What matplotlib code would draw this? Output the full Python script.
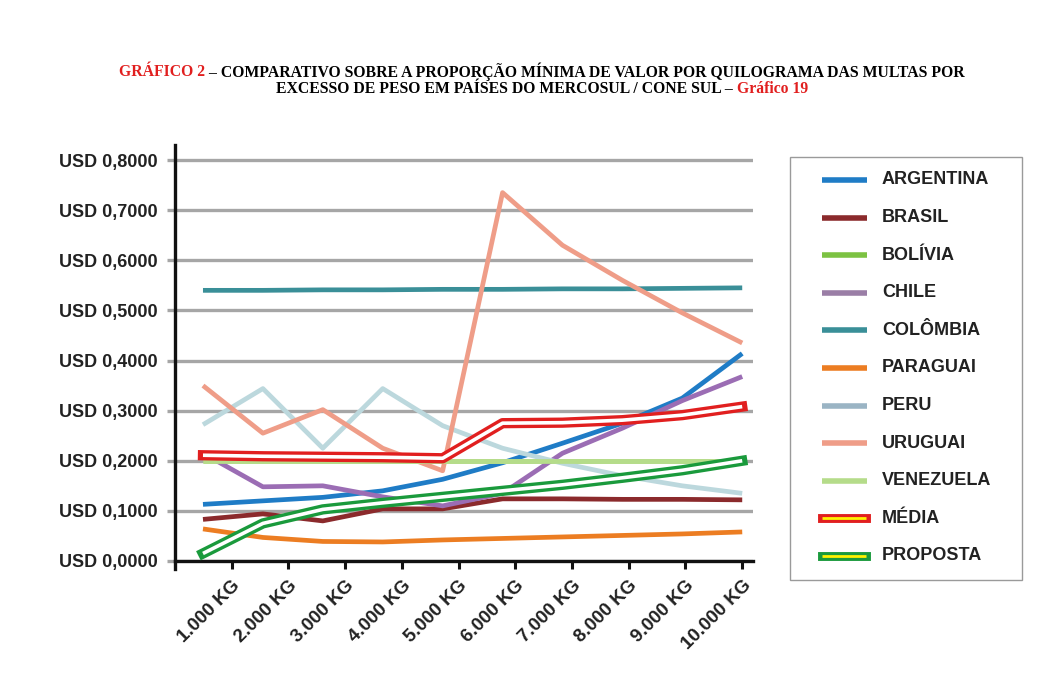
import numpy as np
import matplotlib
matplotlib.use('Agg')
import matplotlib.pyplot as plt
import matplotlib.patheffects as pe
from matplotlib.lines import Line2D
from matplotlib.patches import Rectangle

# categorias (peso excedente)
pesos = ['1.000 KG', '2.000 KG', '3.000 KG', '4.000 KG', '5.000 KG',
         '6.000 KG', '7.000 KG', '8.000 KG', '9.000 KG', '10.000 KG']

# valores em USD por kg
argentina = [0.113, 0.120, 0.127, 0.140, 0.163, 0.196, 0.235, 0.275, 0.325, 0.414]
brasil    = [0.083, 0.094, 0.080, 0.104, 0.104, 0.124, 0.124, 0.123, 0.123, 0.122]
bolivia   = [0.200, 0.200, 0.200, 0.200, 0.200, 0.200, 0.200, 0.200, 0.200, 0.200]
chile     = [0.215, 0.148, 0.150, 0.128, 0.110, 0.135, 0.215, 0.265, 0.320, 0.368]
colombia  = [0.540, 0.540, 0.541, 0.541, 0.542, 0.542, 0.543, 0.543, 0.544, 0.545]
paraguai  = [0.064, 0.047, 0.039, 0.038, 0.042, 0.045, 0.048, 0.051, 0.054, 0.058]
peru      = [0.272, 0.344, 0.225, 0.344, 0.270, 0.225, 0.195, 0.170, 0.150, 0.135]
uruguai   = [0.350, 0.255, 0.302, 0.225, 0.180, 0.735, 0.630, 0.560, 0.495, 0.435]
venezuela = [0.200, 0.200, 0.200, 0.200, 0.200, 0.200, 0.200, 0.200, 0.200, 0.200]
media     = [0.211, 0.209, 0.208, 0.207, 0.205, 0.275, 0.276, 0.281, 0.291, 0.308]
proposta  = [0.015, 0.075, 0.103, 0.116, 0.128, 0.140, 0.152, 0.166, 0.181, 0.200]

paises = ['ARGENTINA', 'BRASIL', 'BOLÍVIA', 'CHILE', 'COLÔMBIA', 'PARAGUAI',
          'PERU', 'URUGUAI', 'VENEZUELA']
series = [argentina, brasil, bolivia, chile, colombia, paraguai, peru, uruguai, venezuela]
cores = ['#1f7cc6', '#8b2a2c', '#b5dc8a', '#9b6db4', '#3a8f98', '#ec7d22',
         '#bcd8dd', '#ef9d88', '#b5dc8a']
cores_leg = ['#1f7cc6', '#8b2a2c', '#7cc242', '#9a7ea6', '#3a8f98', '#ec7d22',
             '#9ab4c4', '#ef9d88', '#b5dc8a']

vermelho = '#e11f1f'
verde = '#1a9a3c'
fonte = 'Liberation Sans'

fig = plt.figure(figsize=(10.47, 6.84), dpi=100)
W, H = 1047, 684
ax = fig.add_axes([175 / W, 1 - 561 / H, 578 / W, 416 / H])

x = np.arange(len(pesos))
for vals, cor in zip(series, cores):
    ax.plot(x, vals, color=cor, lw=3.4, solid_capstyle='butt', zorder=3)

ax.plot(x, media, color='white', lw=2.6, solid_capstyle='butt', zorder=5,
        path_effects=[pe.Stroke(linewidth=7.4, foreground=vermelho, capstyle='projecting'),
                      pe.Normal()])
ax.plot(x, proposta, color='white', lw=2.6, solid_capstyle='butt', zorder=4,
        path_effects=[pe.Stroke(linewidth=7.4, foreground=verde, capstyle='projecting'),
                      pe.Normal()])

ax.set_xlim(-0.467, 9.18)
ax.set_ylim(0, 0.83)
ax.set_yticks(np.arange(0, 0.81, 0.1))
ax.set_yticklabels(['USD ' + f'{v:.4f}'.replace('.', ',') for v in np.arange(0, 0.81, 0.1)],
                   fontfamily=fonte, fontweight='bold', fontsize=13, color='#222222')
ax.yaxis.grid(True, color='#a6a6a6', lw=2.4, zorder=1)
ax.set_axisbelow(True)
ax.tick_params(axis='y', length=5.5, width=2.4, color='#a6a6a6', pad=7)

ax.set_xticks(np.linspace(0.48, 9, len(pesos)))
ax.set_xticklabels(pesos, rotation=45, ha='right', va='top', rotation_mode='anchor',
                   fontfamily=fonte, fontweight='bold', fontsize=13.5, color='#222222')
ax.tick_params(axis='x', length=5.5, width=2.2, color='#111111', pad=6)

for s in ['top', 'right']:
    ax.spines[s].set_visible(False)
ax.spines['left'].set_linewidth(2.4)
ax.spines['bottom'].set_linewidth(2.4)
ax.spines['left'].set_color('#111111')
ax.spines['bottom'].set_color('#111111')
ax.spines['left'].set_bounds(-0.016, 0.83)

# legenda desenhada a parte
fig.patches.append(Rectangle((790 / W, 1 - 580 / H), 232 / W, 423 / H,
                             transform=fig.transFigure, fill=False,
                             edgecolor='#9a9a9a', lw=1.0))
linhas_y = np.linspace(180, 556, 11)
nomes = paises + ['MÉDIA', 'PROPOSTA']
for i, nome in enumerate(nomes):
    yy = 1 - linhas_y[i] / H
    if nome == 'MÉDIA':
        h = Line2D([822 / W, 866 / W], [yy, yy], transform=fig.transFigure, color='#fff200',
                   lw=2.0, solid_capstyle='butt',
                   path_effects=[pe.Stroke(linewidth=6.4, foreground=vermelho,
                                           capstyle='projecting'), pe.Normal()])
    elif nome == 'PROPOSTA':
        h = Line2D([822 / W, 866 / W], [yy, yy], transform=fig.transFigure, color='#fff200',
                   lw=2.0, solid_capstyle='butt',
                   path_effects=[pe.Stroke(linewidth=6.4, foreground=verde,
                                           capstyle='projecting'), pe.Normal()])
    else:
        h = Line2D([822 / W, 867 / W], [yy, yy], transform=fig.transFigure,
                   color=cores_leg[i], lw=4.0, solid_capstyle='butt')
    fig.lines.append(h)
    fig.text(882 / W, yy, nome, fontfamily=fonte, fontweight='bold', fontsize=13,
             color='#222222', va='center', ha='left')

# titulo com partes em vermelho
titulo = [
    [('GRÁFICO 2', vermelho),
     (' – COMPARATIVO SOBRE A PROPORÇÃO MÍNIMA DE VALOR POR QUILOGRAMA DAS MULTAS POR', 'black')],
    [('EXCESSO DE PESO EM PAÍSES DO MERCOSUL / CONE SUL – ', 'black'),
     ('Gráfico 19', vermelho)],
]
renderer = fig.canvas.get_renderer()
for linha, ty in zip(titulo, [72, 89]):
    textos = []
    for parte, cor in linha:
        t = fig.text(0, 1 - ty / H, parte, fontfamily='Liberation Serif', fontweight='bold',
                     fontsize=11.3, color=cor, va='center', ha='left')
        textos.append(t)
    larguras = [t.get_window_extent(renderer).width for t in textos]
    x0 = 542 - sum(larguras) / 2
    for t, w in zip(textos, larguras):
        t.set_x(x0 / W)
        x0 += w

fig.savefig('out.png', dpi=100)
